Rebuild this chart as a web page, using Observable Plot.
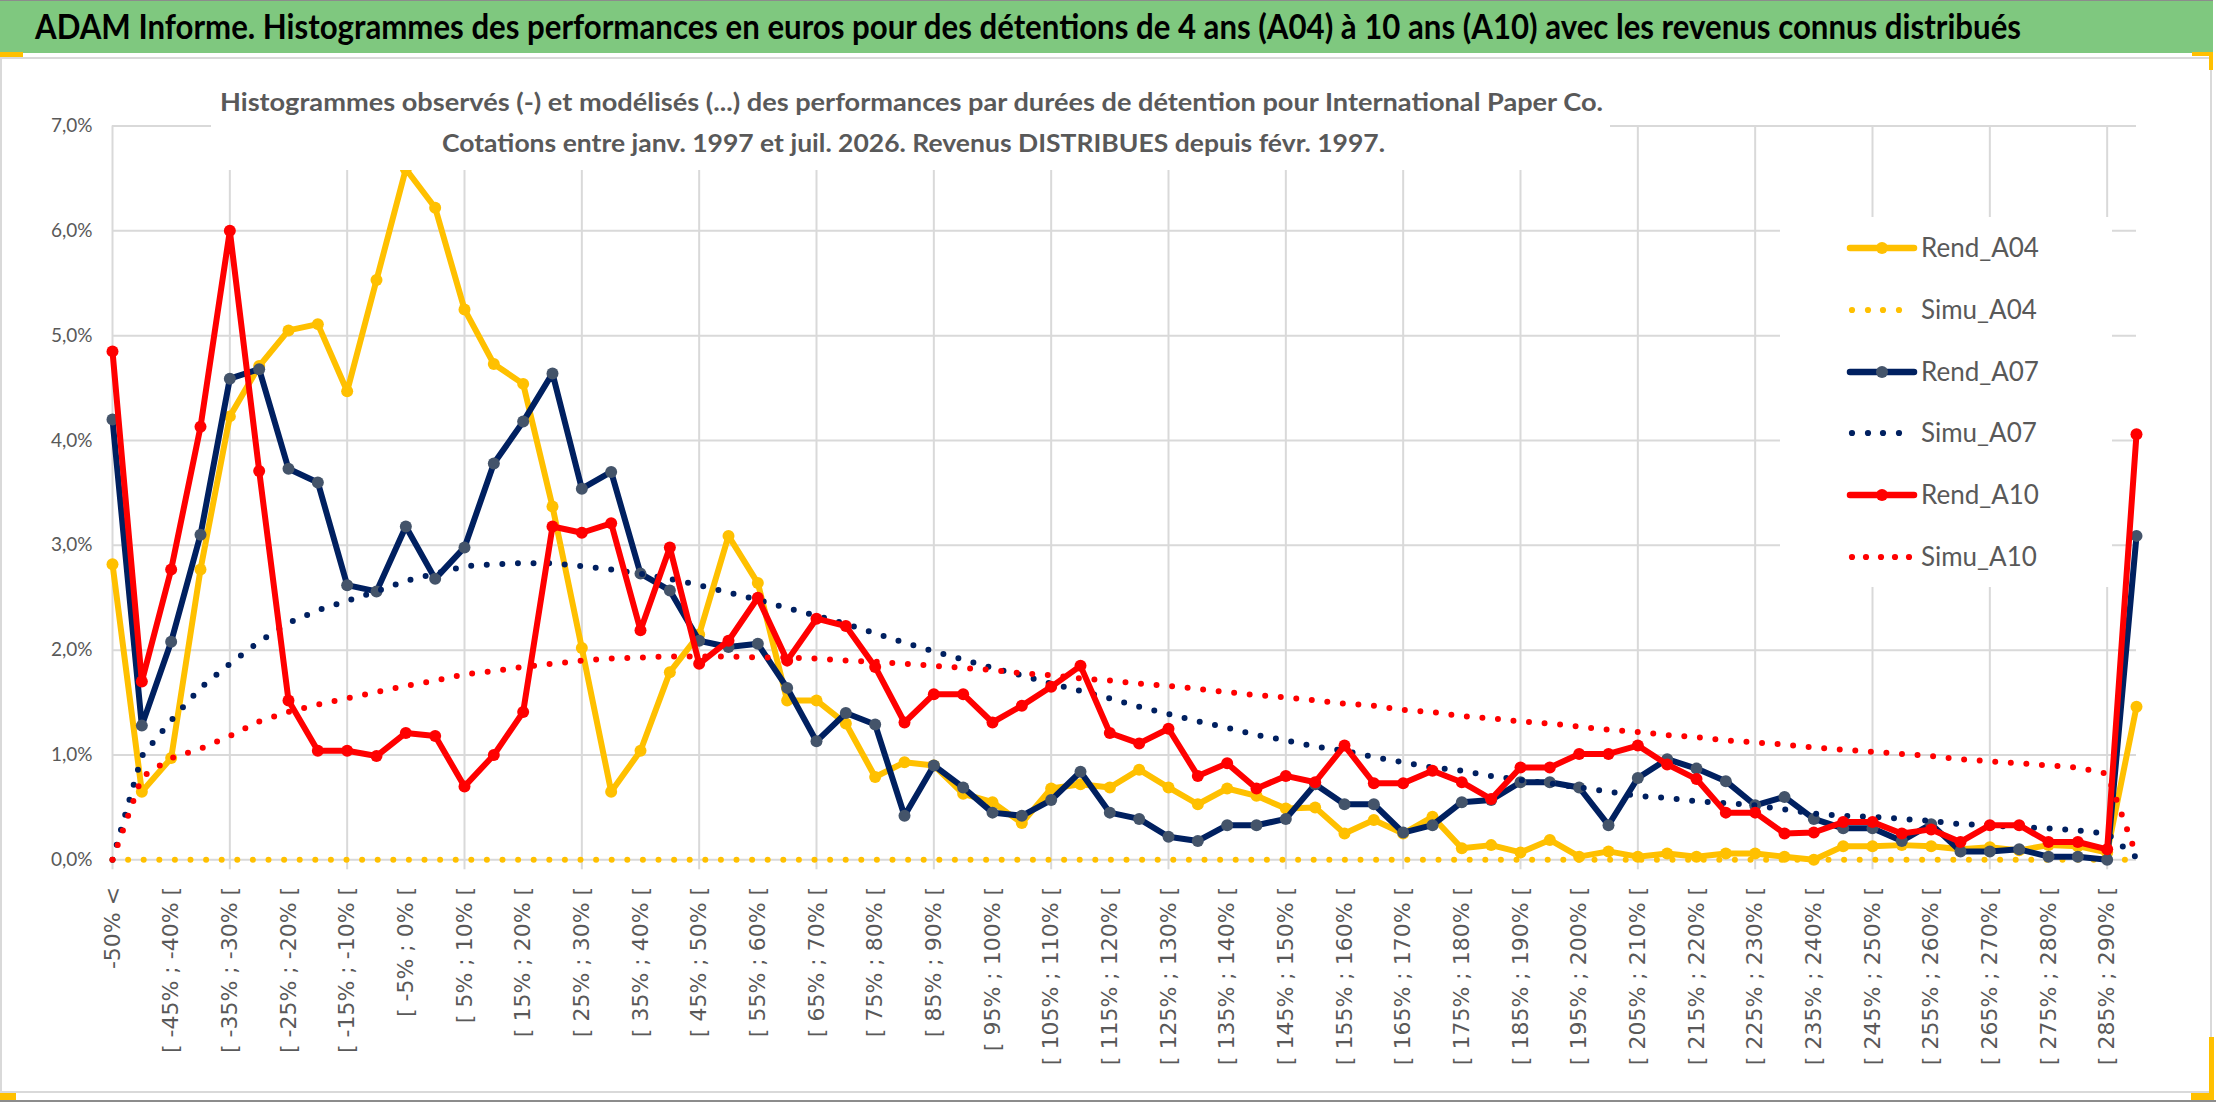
<!DOCTYPE html>
<html>
<head>
<meta charset="utf-8">
<script src="https://cdn.jsdelivr.net/npm/d3@7"></script>
<script src="https://cdn.jsdelivr.net/npm/@observablehq/plot@0.6"></script>
<style>
  html, body { margin: 0; padding: 0; background: #fff; }
  body { width: 2216px; height: 1102px; position: relative; overflow: hidden; font-family: Lato, "Open Sans", sans-serif; }
  .abs { position: absolute; }
  #banner { left: 0; top: 0; width: 2213px; height: 52px; background: rgb(127,200,127); border-top: 1px solid #8c8c8c; }
  #title { left: 35px; top: 4px; white-space: nowrap; font-weight: 700; font-size: 35px; line-height: 42px; color: #000; transform-origin: 0 50%; }
  #frame { left: 0; top: 57px; width: 2208px; height: 1032px; border: 2px solid #D9D9D9; box-sizing: content-box; }
  #chart { left: 0; top: 60px; }
  #subbox { left: 211px; top: 60px; width: 1399px; height: 110px; background: #fff; }
  .sub { white-space: nowrap; font-weight: 700; font-size: 25px; line-height: 30px; color: #595959; transform-origin: 0 50%; }
  #legend { left: 1780px; top: 217px; width: 332px; height: 370px; background: #fff; }
  .lgsym { position: absolute; left: 66px; width: 74px; height: 20px; overflow: visible; }
  .lgtxt { position: absolute; left: 141px; white-space: nowrap; font-size: 26px; line-height: 32px; color: #595959; }
  .orange { background: #FFC000; }
  #bottomline { left: 0; top: 1100px; width: 2216px; height: 2px; background: #8c8c8c; }
  g[aria-label="x-axis tick label"] text { font-family: "DejaVu Sans", sans-serif; }
</style>
</head>
<body>
<div id="banner" class="abs"></div>
<div id="title" class="abs">ADAM Informe. Histogrammes des performances en euros pour des détentions de 4 ans (A04) à 10 ans (A10) avec les revenus connus distribués</div>
<div id="frame" class="abs"></div>
<div id="chart" class="abs"></div>
<div id="subbox" class="abs"></div>
<div id="sub1" class="abs sub" style="left:220px; top:86px;">Histogrammes observés (-) et modélisés (...) des performances par durées de détention pour International Paper Co.</div>
<div id="sub2" class="abs sub" style="left:442px; top:127px;">Cotations entre janv. 1997 et juil. 2026. Revenus DISTRIBUES depuis févr. 1997.</div>
<div id="legend" class="abs"></div>
<div class="abs orange" style="left:0; top:52px; width:23px; height:5px;"></div>
<div class="abs orange" style="left:2192px; top:52px; width:21px; height:4px;"></div>
<div class="abs orange" style="left:2209px; top:52px; width:4px; height:18px;"></div>
<div class="abs orange" style="left:2209px; top:1037px; width:5px; height:63px;"></div>
<div class="abs orange" style="left:2191px; top:1093px; width:22px; height:7px;"></div>
<div class="abs orange" style="left:0; top:1093px; width:16px; height:7px;"></div>
<div id="bottomline" class="abs"></div>
<script>
// ---------- Data (values in %) ----------
const categories = [
  "-50% <",
  "[ -50% ; -45% [", "[ -45% ; -40% [", "[ -40% ; -35% [", "[ -35% ; -30% [", "[ -30% ; -25% [",
  "[ -25% ; -20% [", "[ -20% ; -15% [", "[ -15% ; -10% [", "[ -10% ; -5% [", "[ -5% ; 0% [",
  "[ 0% ; 5% [", "[ 5% ; 10% [", "[ 10% ; 15% [", "[ 15% ; 20% [", "[ 20% ; 25% [",
  "[ 25% ; 30% [", "[ 30% ; 35% [", "[ 35% ; 40% [", "[ 40% ; 45% [", "[ 45% ; 50% [",
  "[ 50% ; 55% [", "[ 55% ; 60% [", "[ 60% ; 65% [", "[ 65% ; 70% [", "[ 70% ; 75% [",
  "[ 75% ; 80% [", "[ 80% ; 85% [", "[ 85% ; 90% [", "[ 90% ; 95% [", "[ 95% ; 100% [",
  "[ 100% ; 105% [", "[ 105% ; 110% [", "[ 110% ; 115% [", "[ 115% ; 120% [", "[ 120% ; 125% [",
  "[ 125% ; 130% [", "[ 130% ; 135% [", "[ 135% ; 140% [", "[ 140% ; 145% [", "[ 145% ; 150% [",
  "[ 150% ; 155% [", "[ 155% ; 160% [", "[ 160% ; 165% [", "[ 165% ; 170% [", "[ 170% ; 175% [",
  "[ 175% ; 180% [", "[ 180% ; 185% [", "[ 185% ; 190% [", "[ 190% ; 195% [", "[ 195% ; 200% [",
  "[ 200% ; 205% [", "[ 205% ; 210% [", "[ 210% ; 215% [", "[ 215% ; 220% [", "[ 220% ; 225% [",
  "[ 225% ; 230% [", "[ 230% ; 235% [", "[ 235% ; 240% [", "[ 240% ; 245% [", "[ 245% ; 250% [",
  "[ 250% ; 255% [", "[ 255% ; 260% [", "[ 260% ; 265% [", "[ 265% ; 270% [", "[ 270% ; 275% [",
  "[ 275% ; 280% [", "[ 280% ; 285% [", "[ 285% ; 290% [",
  "> 290%"
];

const rendA04 = [
  2.82, 0.65, 0.97, 2.77, 4.23, 4.71, 5.05, 5.11, 4.47, 5.53,
  6.59, 6.22, 5.25, 4.73, 4.54, 3.37, 2.02, 0.65, 1.04, 1.79,
  2.15, 3.09, 2.64, 1.52, 1.52, 1.30, 0.79, 0.93, 0.90, 0.63,
  0.55, 0.35, 0.68, 0.72, 0.69, 0.86, 0.69, 0.53, 0.68, 0.61,
  0.49, 0.50, 0.25, 0.38, 0.25, 0.41, 0.11, 0.14, 0.07, 0.19,
  0.03, 0.08, 0.03, 0.06, 0.03, 0.06, 0.06, 0.03, 0.00, 0.13,
  0.13, 0.14, 0.13, 0.10, 0.12, 0.09, 0.14, 0.13, 0.07, 1.46
];
const simuA04 = [
  0, 0, 0, 0, 0, 0, 0, 0, 0, 0,
  0, 0, 0, 0, 0, 0, 0, 0, 0, 0,
  0, 0, 0, 0, 0, 0, 0, 0, 0, 0,
  0, 0, 0, 0, 0, 0, 0, 0, 0, 0,
  0, 0, 0, 0, 0, 0, 0, 0, 0, 0,
  0, 0, 0, 0, 0, 0, 0, 0, 0, 0,
  0, 0, 0, 0, 0, 0, 0, 0, 0, 0
];
const rendA07 = [
  4.20, 1.28, 2.08, 3.10, 4.59, 4.68, 3.73, 3.60, 2.62, 2.56,
  3.18, 2.68, 2.98, 3.78, 4.18, 4.64, 3.54, 3.70, 2.73, 2.57,
  2.09, 2.03, 2.06, 1.64, 1.13, 1.40, 1.29, 0.42, 0.90, 0.69,
  0.45, 0.42, 0.57, 0.84, 0.45, 0.39, 0.22, 0.18, 0.33, 0.33,
  0.39, 0.72, 0.53, 0.53, 0.26, 0.33, 0.55, 0.57, 0.74, 0.74,
  0.69, 0.33, 0.78, 0.96, 0.87, 0.75, 0.52, 0.60, 0.39, 0.30,
  0.30, 0.18, 0.34, 0.08, 0.08, 0.10, 0.03, 0.03, 0.00, 3.09
];
const simuA07 = [
  0.00, 0.99, 1.33, 1.64, 1.87, 2.08, 2.26, 2.38, 2.47, 2.56,
  2.66, 2.73, 2.80, 2.82, 2.83, 2.83, 2.80, 2.77, 2.73, 2.68,
  2.62, 2.55, 2.48, 2.40, 2.33, 2.25, 2.16, 2.07, 1.99, 1.91,
  1.83, 1.76, 1.68, 1.61, 1.54, 1.46, 1.39, 1.32, 1.26, 1.19,
  1.14, 1.08, 1.04, 0.98, 0.93, 0.88, 0.85, 0.80, 0.76, 0.73,
  0.69, 0.65, 0.61, 0.59, 0.56, 0.54, 0.52, 0.48, 0.44, 0.42,
  0.41, 0.39, 0.37, 0.34, 0.33, 0.31, 0.30, 0.28, 0.25, 0.02
];
const rendA10 = [
  4.85, 1.70, 2.77, 4.13, 6.00, 3.71, 1.52, 1.04, 1.04, 0.99,
  1.21, 1.18, 0.70, 1.00, 1.41, 3.18, 3.12, 3.21, 2.19, 2.98,
  1.87, 2.09, 2.50, 1.90, 2.30, 2.23, 1.84, 1.31, 1.58, 1.58,
  1.31, 1.47, 1.65, 1.85, 1.21, 1.11, 1.25, 0.80, 0.92, 0.68,
  0.80, 0.74, 1.09, 0.73, 0.73, 0.85, 0.74, 0.58, 0.88, 0.88,
  1.01, 1.01, 1.09, 0.91, 0.77, 0.45, 0.45, 0.25, 0.26, 0.36,
  0.36, 0.25, 0.29, 0.17, 0.33, 0.33, 0.17, 0.17, 0.10, 4.06
];
const simuA10 = [
  0.00, 0.79, 0.97, 1.06, 1.18, 1.32, 1.41, 1.48, 1.54, 1.60,
  1.66, 1.71, 1.77, 1.80, 1.84, 1.87, 1.90, 1.92, 1.93, 1.94,
  1.94, 1.94, 1.93, 1.93, 1.92, 1.90, 1.89, 1.87, 1.85, 1.83,
  1.81, 1.78, 1.76, 1.73, 1.71, 1.68, 1.66, 1.63, 1.60, 1.57,
  1.55, 1.52, 1.49, 1.47, 1.43, 1.41, 1.37, 1.35, 1.32, 1.30,
  1.27, 1.24, 1.22, 1.19, 1.17, 1.14, 1.12, 1.10, 1.07, 1.05,
  1.03, 1.01, 0.99, 0.96, 0.94, 0.92, 0.90, 0.88, 0.82, 0.04
];
const yTicks = [0, 1, 2, 3, 4, 5, 6, 7];

// ---------- Build ----------
const labelCats = categories.filter((d, i) => i % 2 === 0);
const gridCats = categories.filter((d, i) => i % 4 === 0);
const rows = arr => categories.map((c, i) => ({cat: c, v: arr[i]}));

const YELLOW = "#FFC000", NAVY = "#002060", NAVYMK = "#44546A", RED = "#FF0000";
const solid = (arr, col, mk) => [
  Plot.line(rows(arr), {x: "cat", y: "v", stroke: col, strokeWidth: 6, strokeLinejoin: "round", strokeLinecap: "round"}),
  Plot.dot(rows(arr), {x: "cat", y: "v", r: 6, fill: mk, stroke: null})
];
const dotted = (arr, col) =>
  Plot.line(rows(arr), {x: "cat", y: "v", stroke: col, strokeWidth: 6, strokeDasharray: "0 15.6", strokeLinecap: "round"});

const chart = Plot.plot({
  width: 2216,
  height: 1031,
  marginTop: 65.5,
  marginBottom: 231.7,
  marginLeft: 112,
  marginRight: 80,
  style: {background: "transparent", overflow: "visible", fontFamily: "Lato, sans-serif", color: "#595959"},
  x: {type: "point", domain: categories, padding: 0, round: false, label: null},
  y: {domain: [0, 7], label: null},
  marks: [
    Plot.ruleY(yTicks, {stroke: "#D9D9D9", strokeWidth: 2}),
    Plot.ruleX(gridCats, {stroke: "#D9D9D9", strokeWidth: 2}),
    Plot.axisX({ticks: gridCats, tickSize: 10, stroke: "#D9D9D9", strokeWidth: 2, fill: "none", label: null}),
    Plot.axisX({ticks: labelCats, tickSize: 0, tickPadding: 27, tickRotate: -90, fontSize: 22, fontFamily: "DejaVu Sans", fill: "#595959", label: null}),
    Plot.axisY({ticks: yTicks, tickSize: 0, tickPadding: 20, fontSize: 19, fill: "#595959", label: null,
      tickFormat: d => d.toFixed(1).replace(".", ",") + "%"}),
    ...solid(rendA04, YELLOW, YELLOW),
    dotted(simuA04, YELLOW),
    ...solid(rendA07, NAVY, NAVYMK),
    dotted(simuA07, NAVY),
    ...solid(rendA10, RED, RED),
    dotted(simuA10, RED)
  ]
});
document.getElementById("chart").appendChild(chart);

// ---------- Legend ----------
const legendItems = [
  {name: "Rend_A04", color: YELLOW, mk: YELLOW, kind: "solid", cy: 31},
  {name: "Simu_A04", color: YELLOW, kind: "dot4", cy: 93},
  {name: "Rend_A07", color: NAVY, mk: NAVYMK, kind: "solid", cy: 155},
  {name: "Simu_A07", color: NAVY, kind: "dot4", cy: 216},
  {name: "Rend_A10", color: RED, mk: RED, kind: "solid", cy: 278},
  {name: "Simu_A10", color: RED, kind: "dot5", cy: 340}
];
const lg = document.getElementById("legend");
const NS = "http://www.w3.org/2000/svg";
for (const it of legendItems) {
  const svg = document.createElementNS(NS, "svg");
  svg.setAttribute("class", "lgsym");
  svg.setAttribute("width", "74");
  svg.setAttribute("height", "20");
  svg.style.top = (it.cy - 10) + "px";
  if (it.kind === "solid") {
    const l = document.createElementNS(NS, "line");
    l.setAttribute("x1", 4); l.setAttribute("x2", 68); l.setAttribute("y1", 10); l.setAttribute("y2", 10);
    l.setAttribute("stroke", it.color); l.setAttribute("stroke-width", 6.5); l.setAttribute("stroke-linecap", "round");
    svg.appendChild(l);
    const c = document.createElementNS(NS, "circle");
    c.setAttribute("cx", 36); c.setAttribute("cy", 10); c.setAttribute("r", 6); c.setAttribute("fill", it.mk);
    svg.appendChild(c);
  } else {
    const xs = it.kind === "dot4" ? [6, 22, 37, 53] : [6, 20, 35, 49, 63];
    for (const x of xs) {
      const c = document.createElementNS(NS, "circle");
      c.setAttribute("cx", x); c.setAttribute("cy", 10); c.setAttribute("r", 3.1); c.setAttribute("fill", it.color);
      svg.appendChild(c);
    }
  }
  lg.appendChild(svg);
  const t = document.createElement("div");
  t.className = "lgtxt";
  t.textContent = it.name;
  t.style.top = (it.cy - 17) + "px";
  lg.appendChild(t);
}

// ---------- Fit title widths ----------
function fit(id, w) {
  const el = document.getElementById(id);
  el.style.transform = "none";
  const r = el.getBoundingClientRect().width;
  if (r > 0) el.style.transform = "scaleX(" + (w / r) + ")";
}
function fitAll() { fit("title", 1986); fit("sub1", 1383); fit("sub2", 943); }
fitAll();
if (document.fonts && document.fonts.ready) document.fonts.ready.then(fitAll);
</script>
</body>
</html>
